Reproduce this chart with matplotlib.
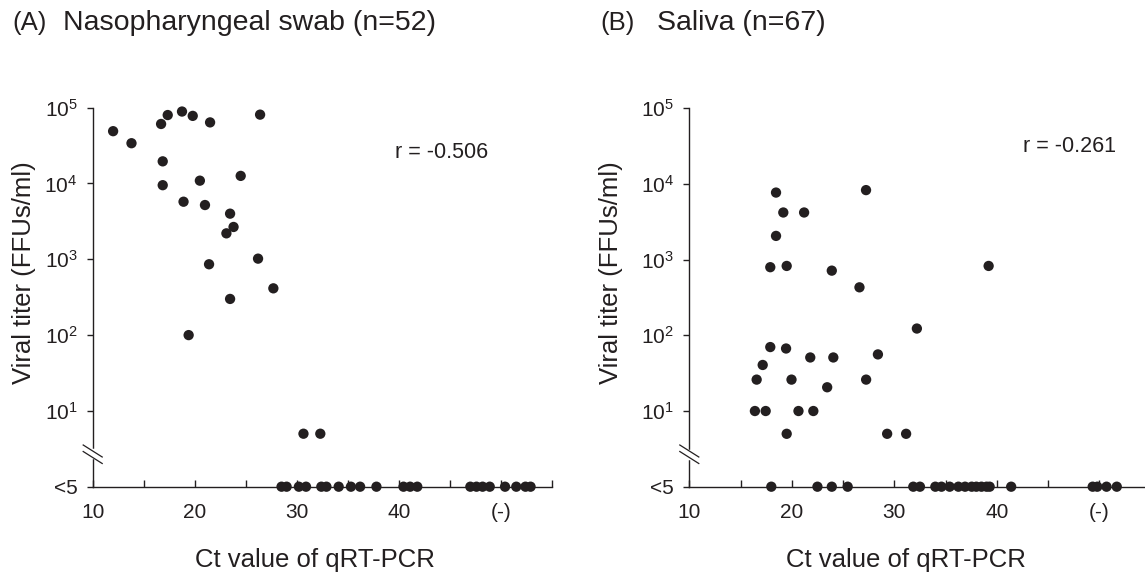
import matplotlib
matplotlib.use("Agg")
import matplotlib.pyplot as plt

plt.rcParams['font.family'] = ['Liberation Sans', 'DejaVu Sans']
plt.rcParams['mathtext.fontset'] = 'custom'
plt.rcParams['mathtext.rm'] = 'Liberation Sans'
plt.rcParams['mathtext.it'] = 'Liberation Sans:italic'
plt.rcParams['mathtext.bf'] = 'Liberation Sans:bold'

INK = '#231f20'

# (A) nasopharyngeal swab: detected titers
nps_ct = [12.0, 13.8, 16.7, 17.35, 18.75, 19.8, 21.5, 26.4, 16.86, 16.86, 20.5, 24.5,
          18.9, 21.0, 23.46, 23.8, 23.1, 21.4, 26.2, 27.7, 23.46, 19.4, 30.65, 32.3]
nps_titer = [4.9e4, 3.4e4, 6.1e4, 8.0e4, 8.9e4, 7.8e4, 6.4e4, 8.1e4, 1.96e4, 9.5e3, 1.09e4, 1.26e4,
             5.75e3, 5.2e3, 4.0e3, 2.67e3, 2.2e3, 860, 1020, 414, 300, 100, 5, 5]
# (A) titer below detection (<5); values >= 46 are qRT-PCR negative "(-)"
nps_low_ct = [28.5, 29.0, 30.2, 30.9, 32.4, 32.9, 34.1, 35.3, 36.2, 37.8, 40.45, 41.1, 41.8,
              47.0, 47.6, 48.2, 48.9, 50.4, 51.5, 52.4, 52.9]

# (B) saliva: detected titers
sal_ct = [18.46, 19.17, 21.2, 18.46, 17.9, 19.5, 23.9, 26.6, 27.24, 39.2, 32.2,
          17.9, 19.44, 21.8, 24.05, 28.4, 17.16, 16.57, 19.97, 23.45, 27.25,
          16.4, 17.45, 20.65, 22.1, 19.5, 29.3, 31.15]
sal_titer = [7.7e3, 4.2e3, 4.2e3, 2.06e3, 795, 826, 716, 431, 8.3e3, 826, 123,
             70, 67, 51, 51, 56, 40.6, 26, 26, 20.6, 26,
             10, 10, 10, 10, 5, 5, 5]
# (B) titer below detection (<5)
sal_low_ct = [18.0, 22.5, 23.9, 25.45, 31.85, 32.5, 34.0, 34.6, 35.4, 36.25, 36.9, 37.55,
              38.0, 38.5, 39.0, 39.3, 41.4, 49.35, 49.8, 50.7, 51.7]

panels = [
    ('(A)', 'Nasopharyngeal swab (n=52)', 'r = -0.506', nps_ct, nps_titer, nps_low_ct),
    ('(B)', 'Saliva (n=67)', 'r = -0.261', sal_ct, sal_titer, sal_low_ct),
]

xticks = [10, 15, 20, 25, 30, 35, 40, 45, 50, 55]
xticklabels = ['10', '', '20', '', '30', '', '40', '', '(-)', '']
yticks = [1, 10, 100, 1e3, 1e4, 1e5]
yticklabels = ['<5', r'$\mathregular{10^1}$', r'$\mathregular{10^2}$',
               r'$\mathregular{10^3}$', r'$\mathregular{10^4}$', r'$\mathregular{10^5}$']

W, H = 1145, 574
fig = plt.figure(figsize=(W / 100, H / 100), dpi=100)

# axes boxes in pixels: left, top, width, height
boxes = [(92.7, 107.7, 459.3, 379.0), (689.3, 108.3, 461.3, 378.4)]
title_x = [(12, 63), (600, 657)]
r_pos = [(395, 152), (1023, 147)]
ylab_pos = [(24, 273), (611, 273)]
xlab_pos = [(315, 560), (906, 560)]

for i, (tag, title, rtxt, ct, titer, low_ct) in enumerate(panels):
    l, t, w, h = boxes[i]
    ax = fig.add_axes([l / W, 1 - (t + h) / H, w / W, h / H])
    ax.set_yscale('log')
    ax.set_xlim(10, 55)
    ax.set_ylim(1, 1e5)
    ax.scatter(ct, titer, s=55, color=INK, edgecolors='none', clip_on=False, zorder=3)
    ax.scatter(low_ct, [1] * len(low_ct), s=55, color=INK, edgecolors='none',
               clip_on=False, zorder=3)

    for side in ['top', 'right']:
        ax.spines[side].set_visible(False)
    for side in ['left', 'bottom']:
        ax.spines[side].set_color(INK)
        ax.spines[side].set_linewidth(1.0)

    ax.set_xticks(xticks)
    ax.set_xticklabels(xticklabels)
    ax.set_yticks(yticks)
    ax.set_yticklabels(yticklabels)
    ax.minorticks_off()
    ax.tick_params(axis='x', direction='in', length=5, width=1, color=INK,
                   labelsize=15, pad=12, labelcolor=INK)
    ax.tick_params(axis='y', direction='out', length=4, width=1, color=INK,
                   labelsize=15, pad=7, labelcolor=INK)

    # axis break mark on the y axis
    def to_ax(px, py):
        return ((px - l) / w, (t + h - py) / h)
    gx0, gy0 = to_ax(l, 450.5 + (t - 107.7))
    gx1, gy1 = to_ax(l, 457.0 + (t - 107.7))
    ax.plot([gx0, gx1], [gy0, gy1], transform=ax.transAxes, color='white', lw=2.5,
            clip_on=False, zorder=4)
    for off in (0, 6.5):
        a = to_ax(l - 9.5, 445 + off)
        b = to_ax(l + 9.5, 457 + off)
        ax.plot([a[0], b[0]], [a[1], b[1]], transform=ax.transAxes, color=INK, lw=0.9,
                clip_on=False, zorder=5)

    fig.text(title_x[i][0] / W, 1 - 23 / H, tag, fontsize=18.5, color=INK, va='center', ha='left')
    fig.text(title_x[i][1] / W, 1 - 23 / H, title, fontsize=20.5, color=INK, va='center', ha='left')
    fig.text(r_pos[i][0] / W, 1 - r_pos[i][1] / H, rtxt, fontsize=15.5, color=INK,
             va='center', ha='left')
    fig.text(ylab_pos[i][0] / W, 1 - ylab_pos[i][1] / H, 'Viral titer (FFUs/ml)', fontsize=18.5,
             color=INK, rotation=90, va='center', ha='center')
    fig.text(xlab_pos[i][0] / W, 1 - xlab_pos[i][1] / H, 'Ct value of qRT-PCR', fontsize=18.5,
             color=INK, va='center', ha='center')

fig.savefig('out.png', dpi=100)
